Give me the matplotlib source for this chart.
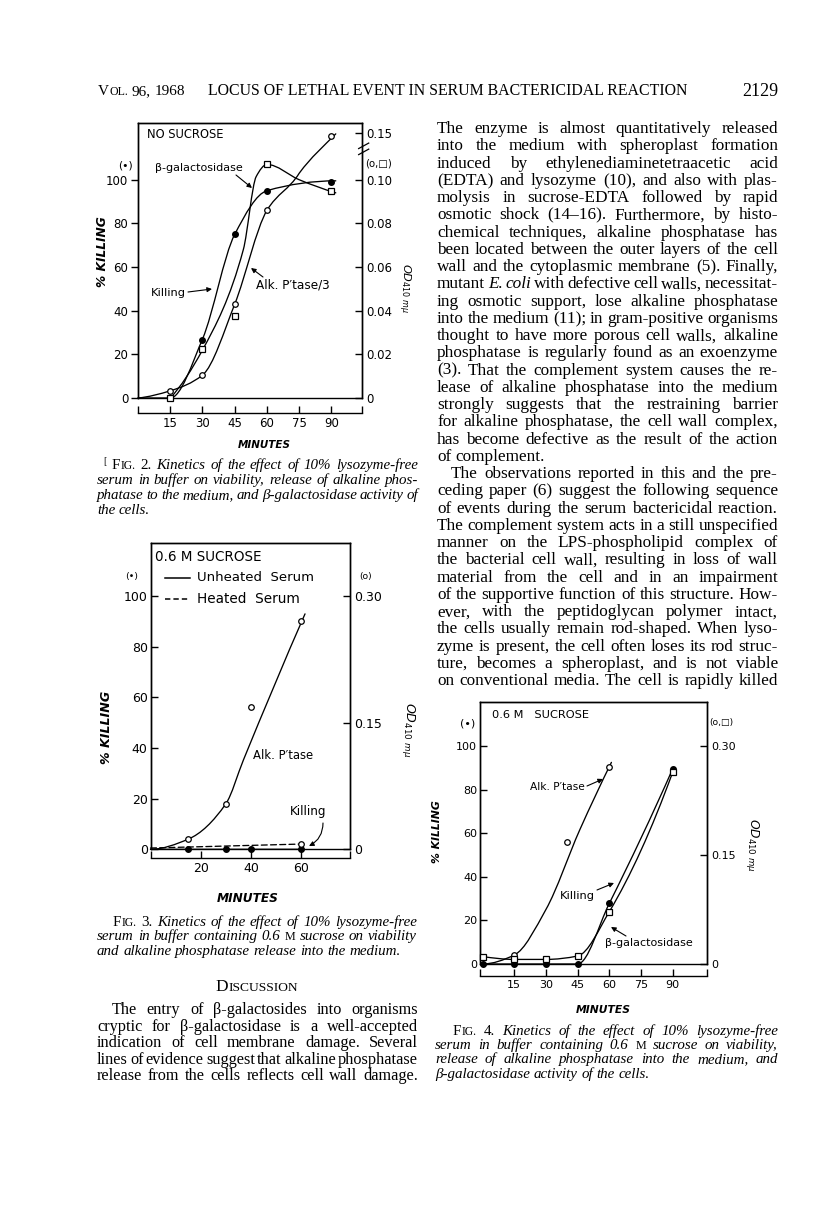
import numpy as np
import matplotlib
matplotlib.use("Agg")
import matplotlib.pyplot as plt
from matplotlib.path import Path
from matplotlib.patches import PathPatch
from matplotlib.lines import Line2D
from matplotlib.font_manager import FontProperties

plt.rcParams['font.family'] = ['DejaVu Sans']
plt.rcParams['mathtext.fontset'] = 'dejavusans'

# ======================= DATA =======================
# ---- Fig. 2 : no sucrose ----
f2_kill_min = [15, 30, 45, 60, 90]
f2_kill_pct = [0, 26.5, 75, 95, 99]
f2_alk_min = [15, 30, 45, 60, 90]
f2_alk_od = [0.0033, 0.0105, 0.043, 0.086, 0.145]
f2_bgal_min = [15, 30, 45, 60, 90]
f2_bgal_od = [0.0, 0.0223, 0.0376, 0.107, 0.095]
# hand-drawn curves (knots)
f2_kill_line_min = [0, 15, 30, 45, 60, 92]
f2_kill_line_pct = [0, 0, 27, 75, 95, 99.5]
f2_alk_line_min = [0, 15, 30, 45, 60, 75, 92]
f2_alk_line_od = [0, 0.0033, 0.0105, 0.043, 0.086, 0.103, 0.148]
f2_bgal_line_min = [15, 30, 49, 55, 60, 75, 92]
f2_bgal_line_od = [0, 0.022, 0.068, 0.1015, 0.107, 0.100, 0.094]
f2_xticks = [15, 30, 45, 60, 75, 90]
f2_left_ticks = [0, 20, 40, 60, 80, 100]
f2_right_ticks = [0, 0.02, 0.04, 0.06, 0.08, 0.10, 0.15]
f2_right_labels = ['0', '0.02', '0.04', '0.06', '0.08', '0.10', '0.15']

# ---- Fig. 3 : 0.6 M sucrose, heated / unheated serum ----
f3_kill_min = [15, 30, 40, 60]
f3_kill_pct = [0, 0, 0, 0]
f3_alk_min = [15, 30, 40, 60]
f3_alk_od = [0.0118, 0.054, 0.169, 0.270]
f3_heated_alk_min = [60]
f3_heated_alk_od = [0.0063]
f3_alk_line_min = [0, 15, 30, 37, 61.5]
f3_alk_line_od = [0, 0.012, 0.054, 0.106, 0.279]
f3_kill_line_min = [0, 60]
f3_kill_line_pct = [0, 0]
f3_heated_line_min = [0, 61]
f3_heated_line_od = [0.0015, 0.0063]
f3_xticks = [20, 40, 60]
f3_left_ticks = [0, 20, 40, 60, 80, 100]
f3_right_ticks = [0, 0.15, 0.30]
f3_right_labels = ['0', '0.15', '0.30']

# ---- Fig. 4 : 0.6 M sucrose ----
f4_alk_min = [15, 40, 60]
f4_alk_od = [0.0123, 0.168, 0.271]
f4_kill_min = [0, 15, 30, 45, 60, 90]
f4_kill_pct = [0, 0, 0, 0, 27.8, 89.5]
f4_bgal_min = [0, 15, 30, 45, 60, 90]
f4_bgal_od = [0.0102, 0.0063, 0.0063, 0.011, 0.072, 0.264]
f4_alk_line_min = [0, 15, 30, 46, 61]
f4_alk_line_od = [0, 0.0123, 0.075, 0.1845, 0.2775]
f4_kill_line_min = [0, 15, 30, 45, 60, 90]
f4_kill_line_pct = [0, 0, 0, 0, 27.8, 89.5]
f4_bgal_line_min = [0, 15, 30, 45, 60, 90]
f4_bgal_line_od = [0.0102, 0.0063, 0.0063, 0.011, 0.072, 0.264]
f4_xticks = [15, 30, 45, 60, 75, 90]
f4_left_ticks = [0, 20, 40, 60, 80, 100]
f4_right_ticks = [0, 0.15, 0.30]
f4_right_labels = ['0', '0.15', '0.30']

# ---- page text ----
header_left = "#Vol. 96, 1968"
header_title = "LOCUS OF LETHAL EVENT IN SERUM BACTERICIDAL REACTION"
header_page = "2129"

right_col = [
    "The enzyme is almost quantitatively released",
    "into the medium with spheroplast formation",
    "induced by ethylenediaminetetraacetic acid",
    "(EDTA) and lysozyme (10), and also with plas-",
    "molysis in sucrose-EDTA followed by rapid",
    "osmotic shock (14\u201316). Furthermore, by histo-",
    "chemical techniques, alkaline phosphatase has",
    "been located between the outer layers of the cell",
    "wall and the cytoplasmic membrane (5). Finally,",
    "mutant ~E. ~coli with defective cell walls, necessitat-",
    "ing osmotic support, lose alkaline phosphatase",
    "into the medium (11); in gram-positive organisms",
    "thought to have more porous cell walls, alkaline",
    "phosphatase is regularly found as an exoenzyme",
    "(3). That the complement system causes the re-",
    "lease of alkaline phosphatase into the medium",
    "strongly suggests that the restraining barrier",
    "for alkaline phosphatase, the cell wall complex,",
    "has become defective as the result of the action",
    "of complement.",
    "The observations reported in this and the pre-",
    "ceding paper (6) suggest the following sequence",
    "of events during the serum bactericidal reaction.",
    "The complement system acts in a still unspecified",
    "manner on the LPS-phospholipid complex of",
    "the bacterial cell wall, resulting in loss of wall",
    "material from the cell and in an impairment",
    "of the supportive function of this structure. How-",
    "ever, with the peptidoglycan polymer intact,",
    "the cells usually remain rod-shaped. When lyso-",
    "zyme is present, the cell often loses its rod struc-",
    "ture, becomes a spheroplast, and is not viable",
    "on conventional media. The cell is rapidly killed",
]
right_col_last = {19}          # lines not justified
right_col_indent = {20}

cap2 = [
    "#Fig. ~2. Kinetics of the effect of 10% lysozyme-free",
    "serum in buffer on viability, release of alkaline phos-",
    "phatase to the medium, and \u03b2-galactosidase activity of",
    "the cells.",
]
cap3 = [
    "#Fig. ~3. Kinetics of the effect of 10% lysozyme-free",
    "serum in buffer containing 0.6 @M sucrose on viability",
    "and alkaline phosphatase release into the medium.",
]
cap4 = [
    "#Fig. ~4. Kinetics of the effect of 10% lysozyme-free",
    "serum in buffer containing 0.6 @M sucrose on viability,",
    "release of alkaline phosphatase into the medium, and",
    "\u03b2-galactosidase activity of the cells.",
]
discussion = [
    "The entry of \u03b2-galactosides into organisms",
    "cryptic for \u03b2-galactosidase is a well-accepted",
    "indication of cell membrane damage. Several",
    "lines of evidence suggest that alkaline phosphatase",
    "release from the cells reflects cell wall damage.",
]

# ======================= FIGURE =======================
W, H = 816, 1206
fig = plt.figure(figsize=(W / 100, H / 100), dpi=100)
fig.patch.set_facecolor('white')
renderer = fig.canvas.get_renderer()

SERIF = 'Liberation Serif'
LW = 1.0


def axes_px(x0, y0, x1, y1):
    return fig.add_axes([x0 / W, 1 - y1 / H, (x1 - x0) / W, (y1 - y0) / H])


def fp_(family='DejaVu Sans', size=9, style='normal', weight='normal'):
    return FontProperties(family=family, size=size, style=style, weight=weight)


def measure(s, fp):
    w, h, d = renderer.get_text_width_height_descent(s, fp, ismath=False)
    return w


def put(s, x, y, fp, length=None, ha='left', va='center', rotation=0):
    t = fig.text(x / W, 1 - y / H, s, fontproperties=fp, ha=ha, va=va, rotation=rotation)
    if length is not None:
        bb = t.get_window_extent(renderer)
        cur = max(bb.width, bb.height)
        f2 = fp.copy()
        f2.set_size(fp.get_size_in_points() * length / cur)
        t.set_fontproperties(f2)
    return t


def parse(line, base):
    words = []
    for tok in line.split():
        if tok.startswith('#'):
            t = tok[1:]
            up = base.copy(); up.set_style('normal')
            sm = up.copy(); sm.set_size(base.get_size_in_points() * 0.78)
            words.append([(t[0], up), (t[1:].upper(), sm)])
        elif tok.startswith('@'):
            sm = base.copy(); sm.set_style('normal')
            sm.set_size(base.get_size_in_points() * 0.8)
            words.append([(tok[1:], sm)])
        elif tok.startswith('~'):
            alt = base.copy()
            alt.set_style('normal' if base.get_style() == 'italic' else 'italic')
            words.append([(tok[1:], alt)])
        else:
            words.append([(tok, base)])
    return words


def natural(line, base):
    words = parse(line, base)
    widths = [sum(measure(t, f) for t, f in w) for w in words]
    space = measure('a a', base) - measure('aa', base)
    return sum(widths) + space * (len(words) - 1)


def fit_font(lines, base, spans, justified, slack=1.0):
    """choose a size so the widest justified line just fits with normal spaces"""
    r = max(natural(l, base) / sp for l, sp, j in zip(lines, spans, justified) if j)
    f = base.copy()
    f.set_size(base.get_size_in_points() * slack / r)
    return f


def text_line(x0, x1, yc, line, base, justify=True, off=0.27):
    words = parse(line, base)
    widths = [sum(measure(t, f) for t, f in w) for w in words]
    space = measure('a a', base) - measure('aa', base)
    if justify and len(words) > 1:
        gap = (x1 - x0 - sum(widths)) / (len(words) - 1)
    else:
        gap = space
    yb = yc + off * base.get_size_in_points() * 100 / 72
    x = x0
    for w, wd in zip(words, widths):
        xx = x
        for t, f in w:
            fig.text(xx / W, 1 - yb / H, t, fontproperties=f, ha='left', va='baseline')
            xx += measure(t, f)
        x += wd + gap


def hermite_path(xs, ys):
    x = np.asarray(xs, float); y = np.asarray(ys, float)
    h = np.diff(x); d = np.diff(y) / h
    n = len(x); m = np.zeros(n)
    if n == 2:
        m[:] = d[0]
    else:
        for i in range(1, n - 1):
            if d[i - 1] * d[i] > 0:
                w1 = 2 * h[i] + h[i - 1]; w2 = h[i] + 2 * h[i - 1]
                m[i] = (w1 + w2) / (w1 / d[i - 1] + w2 / d[i])
        m0 = ((2 * h[0] + h[1]) * d[0] - h[0] * d[1]) / (h[0] + h[1])
        if np.sign(m0) != np.sign(d[0]):
            m0 = 0
        elif np.sign(d[0]) != np.sign(d[1]) and abs(m0) > abs(3 * d[0]):
            m0 = 3 * d[0]
        mn = ((2 * h[-1] + h[-2]) * d[-1] - h[-1] * d[-2]) / (h[-1] + h[-2])
        if np.sign(mn) != np.sign(d[-1]):
            mn = 0
        elif np.sign(d[-1]) != np.sign(d[-2]) and abs(mn) > abs(3 * d[-1]):
            mn = 3 * d[-1]
        m[0] = m0; m[-1] = mn
    verts = [(x[0], y[0])]; codes = [Path.MOVETO]
    for i in range(n - 1):
        verts += [(x[i] + h[i] / 3, y[i] + m[i] * h[i] / 3),
                  (x[i + 1] - h[i] / 3, y[i + 1] - m[i + 1] * h[i] / 3),
                  (x[i + 1], y[i + 1])]
        codes += [Path.CURVE4] * 3
    return Path(verts, codes)


def curve(ax, xs, ys, ls='-'):
    ax.add_patch(PathPatch(hermite_path(xs, ys), fill=False, ec='k', lw=0.95,
                           ls=ls, capstyle='round', clip_on=False))


def dots(ax, xs, ys, kind):
    if kind == 'filled':
        ax.plot(xs, ys, ls='none', marker='o', ms=4.0, mfc='k', mec='k', clip_on=False, zorder=5)
    elif kind == 'open':
        ax.plot(xs, ys, ls='none', marker='o', ms=4.0, mfc='white', mec='k', mew=0.9,
                clip_on=False, zorder=5)
    else:
        ax.plot(xs, ys, ls='none', marker='s', ms=4.6, mfc='white', mec='k', mew=0.9,
                clip_on=False, zorder=5)


def arrow(x0, y0, x1, y1, rad=0.0):
    fig.add_artist(matplotlib.patches.FancyArrowPatch(
        (x0, H - y0), (x1, H - y1), transform=None, arrowstyle='-|>',
        mutation_scale=7, lw=0.8, color='k', shrinkA=0, shrinkB=0,
        connectionstyle=f'arc3,rad={rad}'))


def style_frame(ax, ax2, xlim, ylim, ylim2, xticks, xlabels, out_px,
                left_ticks, left_dir, right_ticks, right_labels, tsize):
    for a in (ax, ax2):
        for s in a.spines.values():
            s.set_linewidth(LW)
    ax.spines['bottom'].set_position(('outward', out_px * 72 / 100))
    ax.set_xlim(*xlim); ax.set_ylim(*ylim); ax2.set_ylim(*ylim2)
    ax.set_xticks(xticks, labels=xlabels)
    ax.tick_params(axis='x', direction='in', length=5, width=LW, pad=3, labelsize=tsize)
    ax.set_yticks(left_ticks, labels=[str(v) for v in left_ticks])
    ax.tick_params(axis='y', direction=left_dir, length=5, width=LW, pad=2, labelsize=tsize)
    ax2.set_yticks(right_ticks, labels=right_labels)
    ax2.tick_params(axis='y', direction='in', length=5, width=LW, pad=3, labelsize=tsize)
    ax.patch.set_visible(False)


# ---------------- Figure 2 ----------------
BRK, K = 0.11, 0.29


def brk_fwd(v):
    v = np.asarray(v, float)
    return np.where(v <= BRK, v, BRK + (v - BRK) * K)


def brk_inv(u):
    u = np.asarray(u, float)
    return np.where(u <= BRK, u, BRK + (u - BRK) / K)


ax = axes_px(138, 123, 362, 398)
ax2 = ax.twinx()
ax2.set_yscale('function', functions=(brk_fwd, brk_inv))
curve(ax, f2_kill_line_min, f2_kill_line_pct)
curve(ax2, f2_alk_line_min, f2_alk_line_od)
curve(ax2, f2_bgal_line_min, f2_bgal_line_od)
dots(ax, f2_kill_min, f2_kill_pct, 'filled')
dots(ax2, f2_alk_min, f2_alk_od, 'open')
dots(ax2, f2_bgal_min, f2_bgal_od, 'square')
x2max = 104.2
style_frame(ax, ax2, (0, x2max), (0, 126), (0, float(brk_inv(0.126))),
            [0] + f2_xticks + [x2max], [''] + [str(v) for v in f2_xticks] + [''], 15,
            f2_left_ticks, 'out', f2_right_ticks, f2_right_labels, 8.5)
for dy in (0.0, 0.022):
    ax.plot([0.985, 1.03], [0.885 + dy, 0.905 + dy], transform=ax.transAxes,
            color='k', lw=0.9, clip_on=False)

sans = fp_(size=8)
put("NO SUCROSE", 147, 135, fp_(size=9), length=77)
put("(\u2022)", 118, 165, fp_(size=8), length=15)
put("(o,\u25a1)", 365, 164, fp_(size=8), length=27)
put("\u03b2-galactosidase", 155, 168, sans, length=88)
put("Killing", 151, 293, sans, length=35)
put("Alk. P\u2032tase/3", 256, 285, sans, length=74)
put("% KILLING", 103, 252, fp_(size=9, style='italic', weight='bold'), length=71,
    ha='center', rotation=90)
put(r"$\mathit{OD}_{\mathit{410\ m}\mu}$", 404, 288, fp_(size=9), length=50,
    ha='center', rotation=-90)
put("MINUTES", 264, 445, fp_(size=8, style='italic', weight='bold'), length=53, ha='center')
arrow(236, 175, 252, 188)
arrow(188, 292, 212, 289)
arrow(263, 277, 251, 268)

# ---------------- Figure 3 ----------------
ax = axes_px(150.5, 543, 350, 849.3)
ax2 = ax.twinx()
curve(ax2, f3_alk_line_min, f3_alk_line_od)
curve(ax, f3_kill_line_min, f3_kill_line_pct)
curve(ax2, f3_heated_line_min, f3_heated_line_od, ls=(0, (4.5, 2.5)))
dots(ax, f3_kill_min, f3_kill_pct, 'filled')
dots(ax2, f3_alk_min, f3_alk_od, 'open')
dots(ax2, f3_heated_alk_min, f3_heated_alk_od, 'open')
x3max = 79.4
style_frame(ax, ax2, (0, x3max), (0, 121), (0, 0.363),
            [0] + f3_xticks + [x3max], [''] + [str(v) for v in f3_xticks] + [''], 8.4,
            f3_left_ticks, 'in', f3_right_ticks, f3_right_labels, 9)
fig.add_artist(Line2D([165 / W, 190 / W], [1 - 578 / H, 1 - 578 / H], color='k', lw=1.1))
fig.add_artist(Line2D([165 / W, 190 / W], [1 - 599.3 / H, 1 - 599.3 / H], color='k', lw=1.1,
                      ls=(0, (3.5, 2))))
put("0.6 M SUCROSE", 155, 557, fp_(size=9), length=107)
put("Unheated  Serum", 196.7, 578, fp_(size=9), length=116.6)
put("Heated  Serum", 196.7, 599.3, fp_(size=9), length=102.6)
put("(\u2022)", 125, 577, fp_(size=8), length=13)
put("(o)", 359, 577, fp_(size=8), length=13)
put("Alk. P\u2032tase", 253, 755.7, fp_(size=8.5), length=60)
put("Killing", 290, 811.7, fp_(size=8.5), length=36.7)
put("% KILLING", 106, 727, fp_(size=9, style='italic', weight='bold'), length=73,
    ha='center', rotation=90)
put(r"$\mathit{OD}_{\mathit{410\ m}\mu}$", 408, 730, fp_(size=9), length=55,
    ha='center', rotation=-90)
put("MINUTES", 247.5, 899, fp_(size=9, style='italic', weight='bold'), length=62, ha='center')
arrow(323, 823, 309, 846, rad=-0.3)

# ---------------- Figure 4 ----------------
ax = axes_px(480, 701.7, 706.7, 964)
ax2 = ax.twinx()
curve(ax2, f4_alk_line_min, f4_alk_line_od)
curve(ax, f4_kill_line_min, f4_kill_line_pct)
curve(ax2, f4_bgal_line_min, f4_bgal_line_od)
dots(ax, f4_kill_min, f4_kill_pct, 'filled')
dots(ax2, f4_alk_min, f4_alk_od, 'open')
dots(ax2, f4_bgal_min, f4_bgal_od, 'square')
x4min, x4max = -1.2, 106.1
style_frame(ax, ax2, (x4min, x4max), (0, 120.3), (0, 0.361),
            [x4min] + f4_xticks + [x4max], [''] + [str(v) for v in f4_xticks] + [''], 12,
            f4_left_ticks, 'in', f4_right_ticks, f4_right_labels, 8)
put("0.6 M   SUCROSE", 491.7, 715, fp_(size=8.5), length=96.7)
put("(\u2022)", 460, 723.3, fp_(size=7.5), length=15)
put("(o,\u25a1)", 709.3, 723, fp_(size=7.5), length=24)
put("Alk. P\u2032tase", 530, 786.7, fp_(size=8), length=55)
put("Killing", 560, 895.7, fp_(size=8), length=35)
put("\u03b2-galactosidase", 605, 943.3, fp_(size=8), length=88.3)
put("% KILLING", 437, 832, fp_(size=8, style='italic', weight='bold'), length=63,
    ha='center', rotation=90)
put(r"$\mathit{OD}_{\mathit{410\ m}\mu}$", 753, 845, fp_(size=8), length=54,
    ha='center', rotation=-90)
put("MINUTES", 603, 1010, fp_(size=8, style='italic', weight='bold'), length=55, ha='center')
arrow(587, 786, 603, 779)
arrow(597, 890, 614, 883)
arrow(626, 936, 611, 927)

# ---------------- page text ----------------
hdr = fp_(SERIF, size=11)
text_line(98, 202, 91, header_left, hdr, justify=False)
put(header_title, 208, 91, hdr, length=482)
put(header_page, 778, 91, hdr, length=36, ha='right')

# right column body
rc_x0 = [437 + (14 if i in right_col_indent else 0) for i in range(len(right_col))]
rc_just = [i not in right_col_last for i in range(len(right_col))]
body = fit_font(right_col, fp_(SERIF, size=12), [778 - x for x in rc_x0], rc_just, slack=1.03)
for i, ln in enumerate(right_col):
    text_line(rc_x0[i], 778, 128.5 + 17.25 * i, ln, body, justify=rc_just[i])

# captions
cap_base = fp_(SERIF, size=10, style='italic')
c2_x0 = [112, 97, 97, 97]
cap = fit_font(cap2 + cap3, cap_base, [418 - x for x in c2_x0] + [417 - x for x in (113, 97, 97)],
               [True, True, True, False, True, True, False], slack=1.02)
for i, ln in enumerate(cap2):
    text_line(c2_x0[i], 418, 465 + 15 * i, ln, cap, justify=(i < len(cap2) - 1))
put("[", 103, 462, fp_(SERIF, size=7))
for i, ln in enumerate(cap3):
    x0 = 113 if i == 0 else 97
    text_line(x0, 417, 921.7 + 14.5 * i, ln, cap, justify=(i < len(cap3) - 1))
for i, ln in enumerate(cap4):
    x0 = 453 if i == 0 else 435
    text_line(x0, 778, 1031 + 14.2 * i, ln, cap, justify=(i < len(cap4) - 1))

# discussion (left column, its own fit so the long line does not collide)
d_x0 = [112, 97, 97, 97, 97]
dbody = fit_font(discussion, fp_(SERIF, size=12), [418 - x for x in d_x0],
                 [True] * len(discussion), slack=1.03)
if dbody.get_size_in_points() > body.get_size_in_points():
    dbody = body.copy()
dw = sum(measure(t, f) for w in parse("#Discussion", body) for t, f in w)
text_line(256.7 - dw / 2, 256.7 + dw / 2, 986.7, "#Discussion", body, justify=False)
for i, ln in enumerate(discussion):
    text_line(d_x0[i], 418, 1010 + 16.4 * i, ln, dbody, justify=True)

fig.savefig("out.png", dpi=100, facecolor='white')
